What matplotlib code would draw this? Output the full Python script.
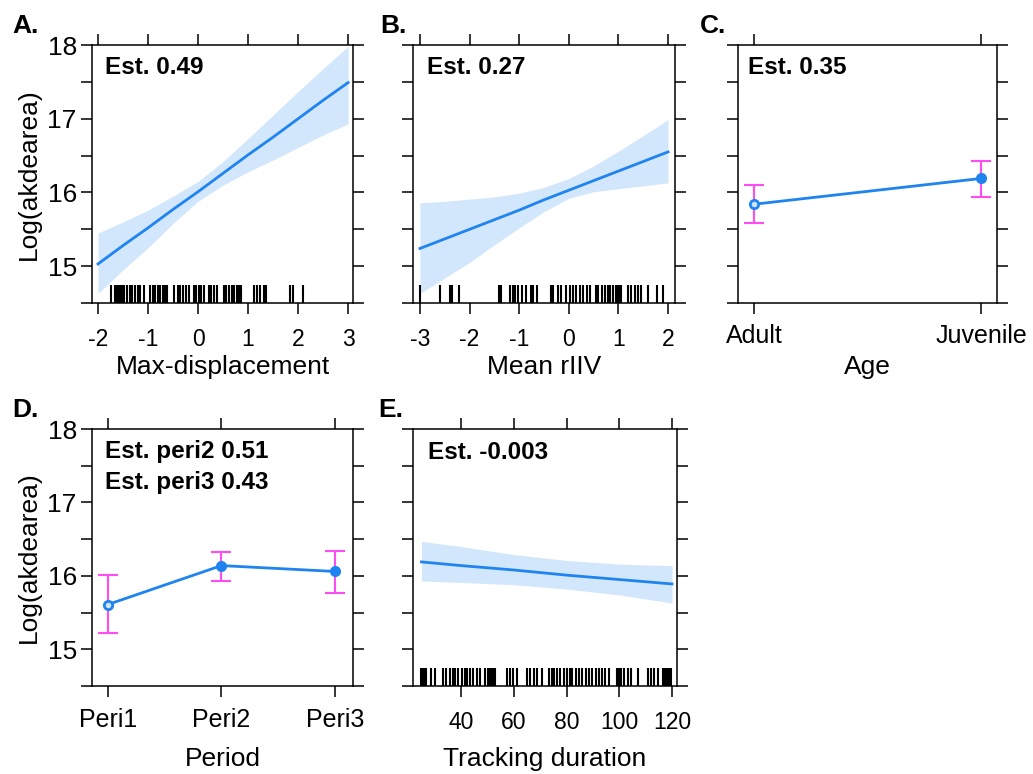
import numpy as np
import matplotlib.pyplot as plt

plt.rcParams['font.family'] = ['Liberation Sans', 'DejaVu Sans']
plt.rcParams['axes.unicode_minus'] = False

# ------------------------------------------
# data
# ------------------------------------------

# A. max-displacement
disp_x = [-2, -1.5, -1, -0.5, 0, 0.5, 1, 1.5, 2, 2.5, 3]
disp_fit = [15.03, 15.28, 15.52, 15.77, 16.01, 16.26, 16.51, 16.75, 17.00, 17.25, 17.49]
disp_lo = [14.63, 14.95, 15.25, 15.58, 15.88, 16.10, 16.28, 16.44, 16.61, 16.78, 16.93]
disp_hi = [15.45, 15.60, 15.76, 15.95, 16.15, 16.42, 16.73, 17.05, 17.37, 17.68, 17.98]
disp_rug = [-1.74, -1.66, -1.63, -1.59, -1.56, -1.53, -1.49, -1.43, -1.37, -1.32,
            -1.27, -1.21, -1.16, -1.09, -0.96, -0.91, -0.86, -0.81, -0.76, -0.71,
            -0.66, -0.63, -0.48, -0.41, -0.36, -0.31, -0.25, -0.19, -0.09, -0.04,
            0.01, 0.05, 0.11, 0.21, 0.26, 0.31, 0.37, 0.51, 0.56, 0.61, 0.67,
            0.72, 0.77, 0.81, 0.85, 1.11, 1.17, 1.24, 1.31, 1.36, 1.83, 1.89, 2.09]

# B. mean rIIV
riiv_x = [-3, -2.5, -2, -1.5, -1, -0.5, 0, 0.5, 1, 1.5, 2]
riiv_fit = [15.24, 15.37, 15.50, 15.63, 15.76, 15.90, 16.03, 16.16, 16.29, 16.42, 16.55]
riiv_lo = [14.63, 14.84, 15.05, 15.29, 15.52, 15.74, 15.92, 16.01, 16.05, 16.09, 16.13]
riiv_hi = [15.86, 15.88, 15.91, 15.94, 15.99, 16.07, 16.19, 16.36, 16.56, 16.77, 16.99]
riiv_rug = [-3.0, -2.60, -2.40, -2.36, -2.21, -1.40, -1.36, -1.19, -1.13, -1.09,
            -1.02, -0.95, -0.87, -0.77, -0.72, -0.65, -0.35, -0.32, -0.21, -0.15,
            -0.05, 0.02, 0.09, 0.15, 0.22, 0.29, 0.36, 0.42, 0.54, 0.59, 0.66,
            0.72, 0.79, 0.83, 0.89, 0.96, 0.99, 1.03, 1.06, 1.19, 1.26, 1.33,
            1.40, 1.46, 1.60, 1.77, 1.90]

# C. age
age_groups = ['Adult', 'Juvenile']
age_est = [15.84, 16.19]
age_lo = [15.58, 15.94]
age_hi = [16.10, 16.43]

# D. period
period_groups = ['Peri1', 'Peri2', 'Peri3']
period_est = [15.61, 16.14, 16.06]
period_lo = [15.22, 15.93, 15.76]
period_hi = [16.01, 16.32, 16.34]

# E. tracking duration
dur_x = [25, 40, 60, 80, 100, 120]
dur_fit = [16.19, 16.14, 16.08, 16.01, 15.95, 15.89]
dur_lo = [15.93, 15.91, 15.88, 15.82, 15.74, 15.63]
dur_hi = [16.47, 16.40, 16.29, 16.21, 16.16, 16.14]
dur_rug = [25.0, 25.6, 26.3, 26.9, 28.8, 30.1, 33.0, 34.5, 35.8, 37.0, 37.7, 38.9,
           40.3, 41.5, 42.2, 43.4, 44.7, 46.0, 47.2, 49.1, 50.4, 51.1, 51.7, 52.3,
           53.0, 57.4, 58.7, 59.9, 61.2, 65.0, 66.3, 67.6, 68.8, 70.7, 73.3, 74.6,
           75.2, 76.5, 77.7, 79.0, 80.3, 81.5, 82.2, 83.5, 84.7, 86.0, 87.3, 88.5,
           89.8, 91.1, 92.4, 93.6, 94.5, 96.2, 99.3, 100.0, 100.6, 101.9, 103.2,
           104.4, 107.0, 110.8, 112.0, 113.3, 114.6, 116.5, 117.1, 117.8, 118.4,
           119.0, 119.7]

# ------------------------------------------
# style
# ------------------------------------------
LINE = '#1f84f0'
BAND = '#d3e7fc'
ERR = '#ff4cf5'

fig = plt.figure(figsize=(10.33, 7.74), dpi=100)

ax_a = fig.add_axes([0.0891, 0.6085, 0.2527, 0.3333])
ax_b = fig.add_axes([0.3998, 0.6085, 0.2536, 0.3333])
ax_c = fig.add_axes([0.7144, 0.6085, 0.2507, 0.3333])
ax_d = fig.add_axes([0.0891, 0.1137, 0.2527, 0.3320])
ax_e = fig.add_axes([0.3998, 0.1137, 0.2556, 0.3320])


def base_style(ax, show_y):
    ax.set_ylim(14.5, 18)
    ax.set_yticks([15, 16, 17, 18])
    ax.set_yticks([14.5, 15.5, 16.5, 17.5], minor=True)
    ax.tick_params(which='both', direction='out', length=8, width=1.1,
                   top=True, right=True, labeltop=False, labelright=False,
                   labelleft=show_y, colors='black')
    ax.tick_params(axis='y', labelsize=19, pad=3)
    for s in ax.spines.values():
        s.set_linewidth(1.1)
    if show_y:
        ax.set_ylabel('Log(akdearea)', fontsize=19)
        ax.yaxis.set_label_coords(-0.195, 0.5)


def smooth_panel(ax, x, fit, lo, hi, rug):
    ax.fill_between(x, lo, hi, color=BAND, lw=0)
    ax.plot(x, fit, color=LINE, lw=2)
    ax.vlines(rug, 14.5, 14.74, color='black', lw=1.5)


def factor_panel(ax, groups, est, lo, hi, fill):
    est = np.array(est)
    yerr = [est - np.array(lo), np.array(hi) - est]
    ax.errorbar(groups, est, yerr=yerr, fmt='none', ecolor=ERR,
                elinewidth=1.5, capsize=7.5, capthick=1.5)
    ax.plot(groups, est, color=LINE, lw=2)
    for g, e, f in zip(groups, est, fill):
        ax.plot([g], [e], 'o', color=LINE, ms=6, mew=2, mfc=f)


# A
smooth_panel(ax_a, disp_x, disp_fit, disp_lo, disp_hi, disp_rug)
base_style(ax_a, True)
ax_a.set_xlim(-2.12, 3.1)
ax_a.set_xticks([-2, -1, 0, 1, 2, 3])
ax_a.tick_params(axis='x', labelsize=16.5, pad=10)
ax_a.set_xlabel('Max-displacement', fontsize=19)
ax_a.xaxis.set_label_coords(0.5, -0.2)
ax_a.text(0.05, 0.888, 'Est. 0.49', transform=ax_a.transAxes, fontsize=17.5,
          fontweight='bold', va='baseline')

# B
smooth_panel(ax_b, riiv_x, riiv_fit, riiv_lo, riiv_hi, riiv_rug)
base_style(ax_b, False)
ax_b.set_xlim(-3.14, 2.14)
ax_b.set_xticks([-3, -2, -1, 0, 1, 2])
ax_b.tick_params(axis='x', labelsize=16.5, pad=10)
ax_b.set_xlabel('Mean rIIV', fontsize=19)
ax_b.xaxis.set_label_coords(0.5, -0.2)
ax_b.text(0.053, 0.888, 'Est. 0.27', transform=ax_b.transAxes, fontsize=17.5,
          fontweight='bold', va='baseline')

# C
factor_panel(ax_c, age_groups, age_est, age_lo, age_hi, ['#cfe4ff', LINE])
base_style(ax_c, False)
ax_c.set_xlim(-0.07, 1.07)
ax_c.tick_params(axis='x', labelsize=18, pad=7)
ax_c.set_xlabel('Age', fontsize=19)
ax_c.xaxis.set_label_coords(0.5, -0.2)
ax_c.text(0.04, 0.888, 'Est. 0.35', transform=ax_c.transAxes, fontsize=17.5,
          fontweight='bold', va='baseline')

# D
factor_panel(ax_d, period_groups, period_est, period_lo, period_hi,
             ['#cfe4ff', LINE, LINE])
base_style(ax_d, True)
ax_d.set_xlim(-0.14, 2.16)
ax_d.tick_params(axis='x', labelsize=18, pad=8)
ax_d.set_xlabel('Period', fontsize=19)
ax_d.xaxis.set_label_coords(0.5, -0.237)
ax_d.text(0.05, 0.887, 'Est. peri2 0.51', transform=ax_d.transAxes, fontsize=17.5,
          fontweight='bold', va='baseline')
ax_d.text(0.05, 0.767, 'Est. peri3 0.43', transform=ax_d.transAxes, fontsize=17.5,
          fontweight='bold', va='baseline')

# E
smooth_panel(ax_e, dur_x, dur_fit, dur_lo, dur_hi, dur_rug)
base_style(ax_e, False)
ax_e.set_xlim(21.8, 121.9)
ax_e.set_xticks([40, 60, 80, 100, 120])
ax_e.tick_params(axis='x', labelsize=16.5, pad=10)
ax_e.set_xlabel('Tracking duration', fontsize=19)
ax_e.xaxis.set_label_coords(0.5, -0.237)
ax_e.text(0.057, 0.883, 'Est. -0.003', transform=ax_e.transAxes, fontsize=17.5,
          fontweight='bold', va='baseline')

# panel letters
for lbl, x, y in [('A.', 0.0116, 0.957), ('B.', 0.368, 0.957), ('C.', 0.678, 0.957),
                  ('D.', 0.0116, 0.461), ('E.', 0.366, 0.461)]:
    fig.text(x, y, lbl, fontsize=19, fontweight='bold', va='baseline')

fig.savefig('out.png', dpi=100)
